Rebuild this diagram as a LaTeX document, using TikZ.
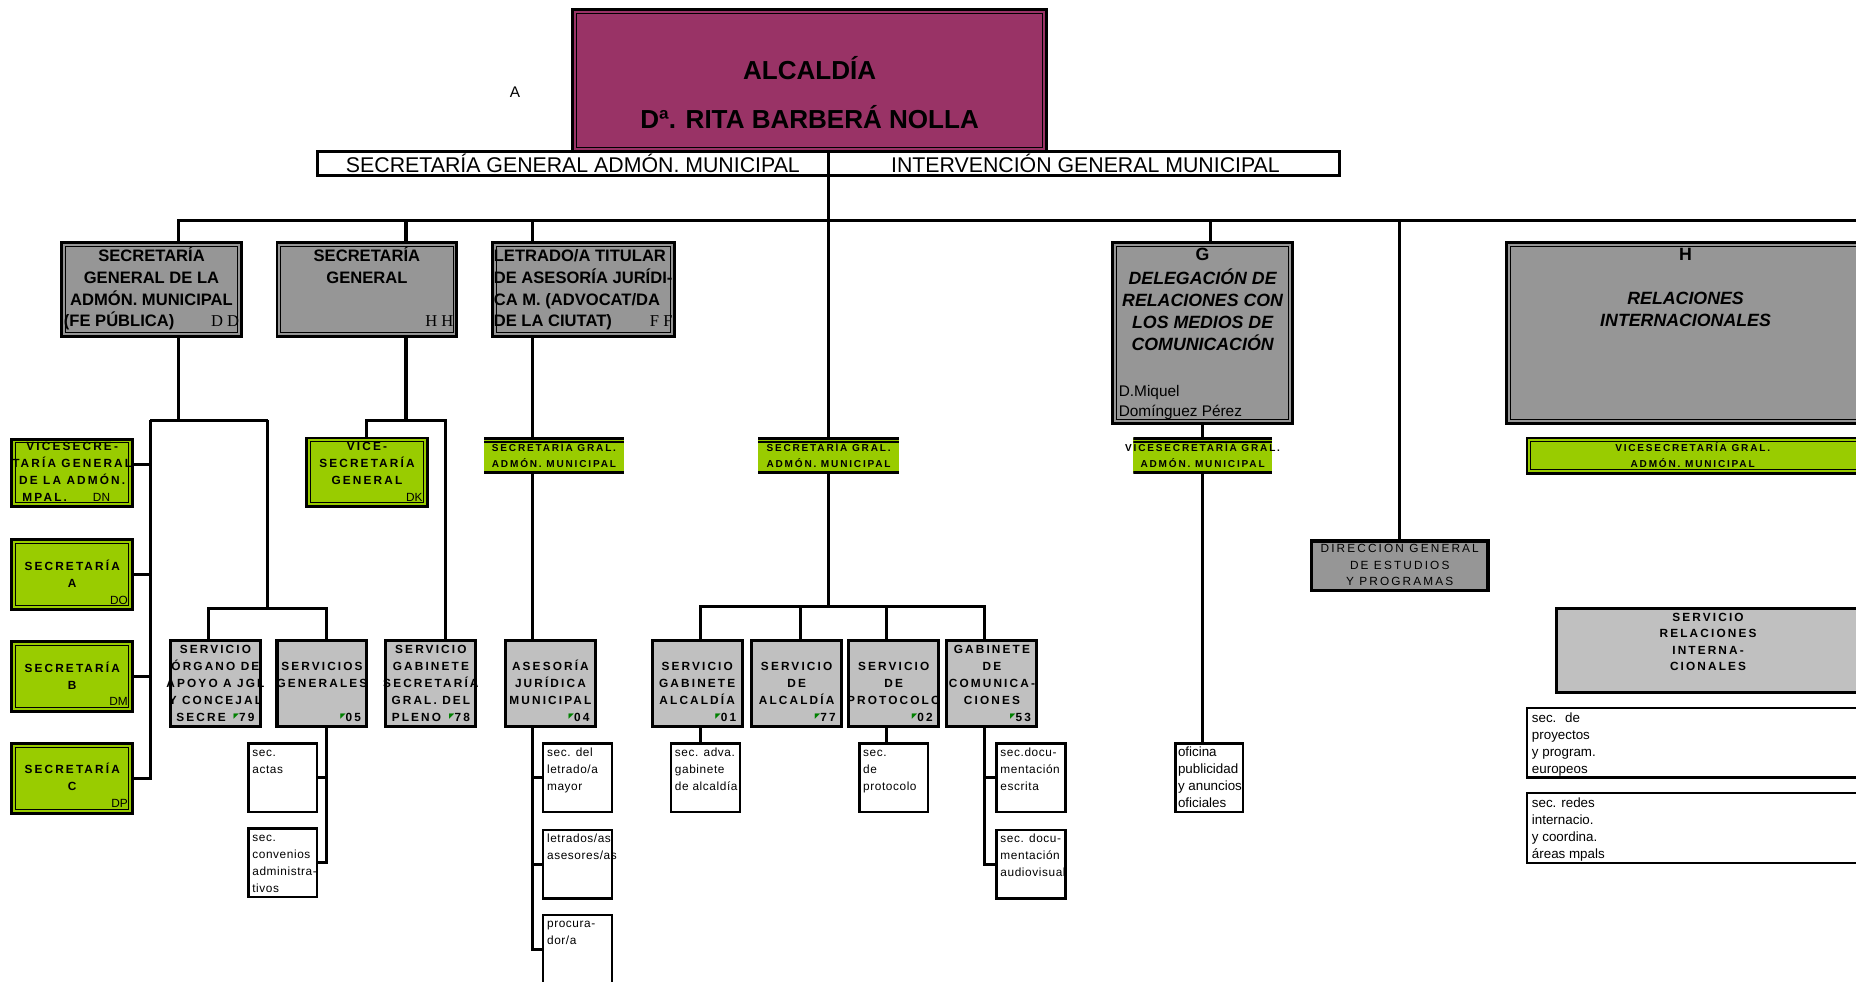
\documentclass[tikz,border=0pt]{standalone}
\usepackage{fontspec}
\setmainfont{Liberation Sans}
\newfontfamily\spc[LetterSpace=18]{Liberation Sans}
\newfontfamily\lsp[LetterSpace=5]{Liberation Sans}
\newfontfamily\tms{Liberation Serif}
\newfontfamily\dvs{DejaVu Sans}
\definecolor{alcfill}{HTML}{993366}
\definecolor{grayA}{HTML}{969696}
\definecolor{grayB}{HTML}{C0C0C0}
\definecolor{lime}{HTML}{99CC00}
\definecolor{mark}{HTML}{008000}
\newcommand\mk{\raisebox{3.2pt}{\dvs\fontsize{6}{6}\selectfont\textcolor{mark}{◤}}}
\tikzset{
  conn/.style={line width=2.6pt},
  box/.style={anchor=north west, inner sep=0pt, outer sep=0pt},
  dbl/.style={box, draw, line width=2.4pt,
    path picture={\draw[line width=0.8pt] ([shift={(3.2pt,-3.2pt)}]path picture bounding box.north west) rectangle ([shift={(-3.2pt,3.2pt)}]path picture bounding box.south east);}},
  gbox/.style={dbl, fill=grayA},
  lbox/.style={dbl, fill=lime},
  sbox/.style={box, draw, line width=2.6pt, fill=grayB},
  wbox/.style={box, draw, line width=2pt, fill=white, minimum width=58pt, minimum height=58pt},
  gbar/.style={box, fill=lime, minimum height=30pt,
    path picture={\draw[line width=4pt] (path picture bounding box.north west) -- (path picture bounding box.north east);
      \draw[line width=0.9pt] ([yshift=-3.4pt]path picture bounding box.north west) -- ([yshift=-3.4pt]path picture bounding box.north east);
      \draw[line width=5pt] (path picture bounding box.south west) -- (path picture bounding box.south east);}},
  txt/.style={anchor=north, inner sep=0pt, align=center},
  ttxt/.style={txt, font=\bfseries\fontsize{14}{18.3}\selectfont},
  itxt/.style={txt, font=\bfseries\itshape\fontsize{15}{18.6}\selectfont},
  ltxt/.style={txt, font=\spc\bfseries\fontsize{10}{14.3}\selectfont},
  btxt/.style={txt, font=\spc\bfseries\fontsize{8.5}{14}\selectfont},
  stxt/.style={txt, font=\spc\bfseries\fontsize{10}{14.5}\selectfont},
  wtxt/.style={txt, anchor=north west, align=left, font=\lsp\fontsize{10}{14.5}\selectfont},
  rtxt/.style={txt, anchor=north west, align=left, font=\fontsize{11.3}{14.3}\selectfont}
}
\begin{document}
\begin{tikzpicture}[x=1pt, y=-1pt]
\clip (0,0) rectangle (1568,829);
\useasboundingbox (0,0) rectangle (1568,829);

\node[font=\fontsize{13}{15}\selectfont] (lblA) at (435,78) {A};
\node[dbl, fill=alcfill, minimum width=400pt, minimum height=120pt] (alc) at (484,8) {};
\node[font=\bfseries\fontsize{22}{24}\selectfont, inner sep=0pt] (alct) at (684,57.6) {ALCALDÍA};
\node[font=\bfseries\fontsize{22}{24}\selectfont, inner sep=0pt] (alcn) at (684,98.6) {Dª. RITA BARBERÁ NOLLA};
\node[box, draw, line width=2.6pt, fill=white, minimum width=864pt, minimum height=20pt] (bar) at (268,128) {};
\node[font=\fontsize{18}{20}\selectfont, inner sep=0pt] (sgm) at (484,138) {SECRETARÍA GENERAL ADMÓN. MUNICIPAL};
\node[font=\fontsize{18}{20}\selectfont, inner sep=0pt] (igm) at (917,138) {INTERVENCIÓN GENERAL MUNICIPAL};

% first row
\node[gbox, minimum width=152pt, minimum height=79pt] (sgam) at (52,205) {};
\node[gbox, minimum width=152pt, minimum height=79pt] (sg) at (234,205) {};
\node[gbox, minimum width=154pt, minimum height=79pt] (let) at (416,205) {};
\node[gbox, minimum width=152pt, minimum height=153pt] (g) at (940,205) {};
\node[gbox, minimum width=340pt, minimum height=153pt] (h) at (1273,205) {};
\node[ttxt] (tsgam) at (128,208.2) {\strut SECRETARÍA\\GENERAL DE LA\\ADMÓN. MUNICIPAL\\\makebox[148pt][l]{(FE PÚBLICA)\hfill{\tms\mdseries D D}}};
\node[ttxt] (tsg) at (310,208.2) {\strut SECRETARÍA\\GENERAL\\\mbox{}\\\makebox[146pt][r]{\tms\mdseries H H}};
\node[ttxt, anchor=north west, align=left] (tlet) at (417,208.2) {\strut LETRADO/A TITULAR\\DE ASESORÍA JURÍDI-\\CA M. (ADVOCAT/DA\\\makebox[151pt][l]{DE LA CIUTAT)\hfill{\tms\mdseries F F}}};
\node[itxt] (tg) at (1016,207.2) {\strut\upshape G\\DELEGACIÓN DE\\RELACIONES CON\\LOS MEDIOS DE\\COMUNICACIÓN};
\node[txt, anchor=north west, align=left, font=\fontsize{13}{17}\selectfont] (tgn) at (945,322.7) {\strut D.Miquel\\Domínguez Pérez};
\node[itxt] (th) at (1424,207.2) {\strut\upshape H\\\mbox{}\\RELACIONES\\INTERNACIONALES};

% green boxes
\node[lbox, minimum width=102pt, minimum height=57pt] (vsg1) at (10,371) {};
\node[ltxt] (tvsg1) at (61,370.6) {\strut VICESECRE-\\TARÍA GENERAL\\DE LA ADMÓN.\\\makebox[94pt][l]{\hspace{5pt}MPAL.\hspace{22pt}{\rmfamily\mdseries DN}}};
\foreach \n/\y/\l/\c in {secA/456/A/DO, secB/542/B/DM, secC/628/C/DP} {
  \node[lbox, minimum width=102pt, minimum height=59pt] (\n) at (10,\y) {};
  \node[ltxt] (t\n) at (61,\y+15.6) {\strut SECRETARÍA\\\l\\\makebox[94pt][r]{\rmfamily\mdseries\c}};
}
\node[lbox, minimum width=102pt, minimum height=58pt] (vsg2) at (259,370) {};
\node[ltxt] (tvsg2) at (310,370.6) {\strut VICE-\\SECRETARÍA\\GENERAL\\\makebox[94pt][r]{\rmfamily\mdseries DK}};

\node[gbar, minimum width=118pt] (gb1) at (409,370) {};
\node[gbar, minimum width=119pt] (gb2) at (640.5,370) {};
\node[gbar, minimum width=117pt] (gb3) at (957.5,370) {};
\node[lbox, minimum width=320pt, minimum height=30pt] (gb4) at (1290,370) {};
\node[btxt] (tgb1) at (468,371.2) {\strut SECRETARÍA GRAL.\\ADMÓN. MUNICIPAL};
\node[btxt] (tgb2) at (700,371.2) {\strut SECRETARÍA GRAL.\\ADMÓN. MUNICIPAL};
\node[btxt] (tgb3) at (1016,371.2) {\strut VICESECRETARÍA GRAL.\\ADMÓN. MUNICIPAL};
\node[btxt] (tgb4) at (1430,371.2) {\strut VICESECRETARÍA GRAL.\\ADMÓN. MUNICIPAL};

\node[box, draw, line width=3pt, fill=grayA, minimum width=149pt, minimum height=42pt] (dir) at (1108,457) {};
\node[txt, font=\spc\fontsize{10}{14}\selectfont] (tdir) at (1182.5,456.8) {\strut DIRECCIÓN GENERAL\\DE ESTUDIOS\\Y PROGRAMAS};

% services
\foreach \n/\x/\t in {
  r1/144/{SERVICIO\\ÓRGANO DE\\APOYO A JGL\\Y CONCEJAL\\\makebox[66pt]{SECRE\hfill\mk79}},
  r2/234/{\mbox{}\\SERVICIOS\\GENERALES\\\mbox{}\\\makebox[66pt][r]{\mk05}},
  r3/326/{SERVICIO\\GABINETE\\SECRETARÍA\\GRAL. DEL\\\makebox[66pt]{PLENO\hfill\mk78}},
  r4/427/{\mbox{}\\ASESORÍA\\JURÍDICA\\MUNICIPAL\\\makebox[66pt][r]{\mk04}},
  m1/551/{\mbox{}\\SERVICIO\\GABINETE\\ALCALDÍA\\\makebox[66pt][r]{\mk01}},
  m2/635/{\mbox{}\\SERVICIO\\DE\\ALCALDÍA\\\makebox[66pt][r]{\mk77}},
  m3/717/{\mbox{}\\SERVICIO\\DE\\PROTOCOLO\\\makebox[66pt][r]{\mk02}},
  m4/800/{GABINETE\\DE\\COMUNICA-\\CIONES\\\makebox[66pt][r]{\mk53}}} {
  \node[sbox, minimum width=76pt, minimum height=73pt] (\n) at (\x,541) {};
  \node[stxt] (t\n) at (\x+38,541.45) {\strut\t};
}
\node[sbox, minimum width=300pt, minimum height=71pt] (srv) at (1315,514) {};
\node[stxt, font=\spc\bfseries\fontsize{10}{14}\selectfont] (tsrv) at (1443,514.8) {\strut SERVICIO\\RELACIONES\\INTERNA-\\CIONALES};

% sections
\foreach \n/\x/\y/\t in {s1/210/628/{sec.\\actas}, s2/210/700/{sec.\\convenios\\administra-\\tivos},
  s4/459/628/{sec. del\\letrado/a\\mayor}, s5/459/701/{letrados/as\\asesores/as}, s6/459/773/{procura-\\dor/a},
  sa/567/628/{sec. adva.\\gabinete\\de alcaldía}, spr/726/628/{sec.\\de\\protocolo},
  sd1/842/628/{sec.docu-\\mentación\\escrita}, sd2/842/701/{sec. docu-\\mentación\\audiovisual}} {
  \node[wbox] (\n) at (\x,\y) {};
  \node[wtxt] (t\n) at (\x+3,\y+0.5) {\strut\t};
}
\node[wbox, minimum width=57pt] (ofi) at (993,628) {};
\node[rtxt] (tofi) at (995,629) {\strut oficina\\publicidad\\y anuncios\\oficiales};
\node[wbox, minimum width=320pt, minimum height=59pt] (hs1) at (1290,598) {};
\node[rtxt] (ths1) at (1294,600) {\strut sec.~ de\\proyectos\\y program.\\europeos};
\node[wbox, minimum width=320pt, minimum height=59pt] (hs2) at (1290,670) {};
\node[rtxt] (ths2) at (1294,672) {\strut sec. redes\\internacio.\\y coordina.\\áreas mpals};

% lines
\coordinate (trunk) at (700,128);
\coordinate (busend) at (1580,186);
\draw[conn] (trunk) -- (gb2.north);
\draw[conn] ([xshift=23pt]sgam.north) |- (busend);
\foreach \n/\dx/\l in {sg/33/19, let/-43/19, g/7/19, dir/0/271}
  \draw[conn] ([xshift=\dx pt]\n.north) -- ++(0,-\l);

\draw[conn] ([xshift=23pt]sgam.south) -- ++(0,71);
\coordinate (spL) at (127,355);
\coordinate (spR) at (226,355);
\draw[conn] (spL) -- (spR);
\draw[conn] (spL) |- (secC.east);
\foreach \n in {secA, secB}
  \draw[conn] (\n.east) -- (\n.east -| spL);
\coordinate (v1) at ([yshift=7pt]vsg1.east);
\draw[conn] (v1) -- (v1 -| spL);
\draw[conn] (spR) -- ++(0,159) coordinate (jB);
\draw[conn] ([xshift=-6pt]r1.north) |- (jB) -| ([xshift=4pt]r2.north);
\coordinate (j2) at ([xshift=4pt]r2.south);
\draw[conn] (j2) |- (s2.east);
\draw[conn] (s1.east) -- (s1.east -| j2);

\draw[conn] ([xshift=33pt]sg.south) -- ++(0,71) coordinate (jC);
\draw[conn] (vsg2.north) |- (jC) -| ([xshift=12pt]r3.north);

\draw[conn] ([xshift=-43pt]let.south) -- ++(0,86);
\draw[conn] ([xshift=-18pt]gb1.south) -- ++(0,141);
\coordinate (j4) at ([xshift=-15pt]r4.south);
\draw[conn] (j4) |- (s6.west);
\foreach \n in {s4, s5}
  \draw[conn] (\n.west) -- (\n.west -| j4);

\draw[conn] (gb2.south) -- ++(0,112) coordinate (jM);
\draw[conn] ([xshift=3pt]m1.north) |- (jM) -| ([xshift=-6pt]m4.north);
\foreach \n/\dx in {m2/3, m3/-6}
  \draw[conn] ([xshift=\dx pt]\n.north) -- ++(0,-29);
\draw[conn] ([xshift=3pt]m1.south) -- ++(0,14);
\draw[conn] ([xshift=-6pt]m3.south) -- ++(0,14);
\coordinate (j8) at ([xshift=-6pt]m4.south);
\draw[conn] (j8) |- (sd2.west);
\draw[conn] (sd1.west) -- (sd1.west -| j8);

\draw[conn] (g.south) -- (gb3.north);
\draw[conn] (gb3.south) -- (ofi.north -| gb3.south);
\end{tikzpicture}
\end{document}
